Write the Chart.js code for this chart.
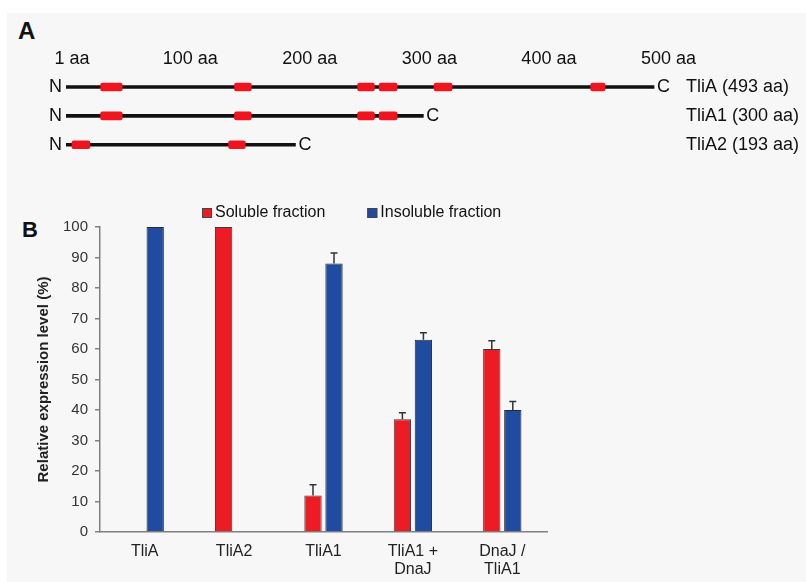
<!DOCTYPE html>
<html>
<head>
<meta charset="utf-8">
<title>TliA constructs and expression</title>
<script src="https://cdn.jsdelivr.net/npm/chart.js@4.4.0/dist/chart.umd.min.js"></script>
<style>
  html, body { margin: 0; padding: 0; background: #fff; }
  body { width: 806px; height: 582px; position: relative; overflow: hidden; font-family: 'Liberation Sans', Arial, sans-serif; }
  .panel-bg { position: absolute; left: 7px; top: 13px; right: 0; bottom: 0; background: #f7f7f7; }
  .panel-letter { position: absolute; font-weight: bold; line-height: 1; color: #111; }
  canvas { position: absolute; left: 0; }
  #mapChart { top: 0; }
  #barChart { top: 190px; }
</style>
</head>
<body>
<div class="panel-bg"></div>
<div class="panel-letter" style="left:18px; top:19px; font-size:24px;">A</div>
<div class="panel-letter" style="left:22px; top:219px; font-size:22px;">B</div>
<canvas id="mapChart" width="806" height="190"></canvas>
<canvas id="barChart" width="806" height="392"></canvas>
<script>
// Panel A: protein maps (positions in aa)
const proteinNames = ['TliA (493 aa)', 'TliA1 (300 aa)', 'TliA2 (193 aa)'];
const proteinLengths = [493, 300, 193];
const aaTicks = [1, 100, 200, 300, 400, 500];
const tliADomains = [[30, 48], [142, 156], [245, 259], [263, 278], [309, 324], [440, 452]];
const tliA1Domains = [[30, 48], [142, 156], [245, 259], [263, 278]];
const tliA2Domains = [[6, 21], [137, 151]];

// Panel B: relative expression level (%)
const constructs = ['TliA', 'TliA2', 'TliA1', ['TliA1 +', 'DnaJ'], ['DnaJ /', 'TliA1']];
const solubleValues = [null, 100, 12, 37, 60];
const insolubleValues = [100, null, 88, 63, 40];
const solubleErrors = [null, null, 3.5, 2.1, 2.7];
const insolubleErrors = [null, null, 3.5, 2.3, 2.8];

const fontFamily = "'Liberation Sans', Arial, sans-serif";
Chart.defaults.font.family = fontFamily;

// N / C labels at the ends of each protein line
const endLabelsPlugin = {
    id: 'endLabels',
    afterDatasetsDraw(chart) {
        const { ctx, scales: { x, y } } = chart;
        ctx.save();
        ctx.font = '18px ' + fontFamily;
        ctx.fillStyle = '#111';
        ctx.textBaseline = 'middle';
        proteinLengths.forEach((len, i) => {
            const yPos = y.getPixelForValue(i);
            ctx.textAlign = 'right';
            ctx.fillText('N', x.getPixelForValue(1) - 4, yPos);
            ctx.textAlign = 'left';
            ctx.fillText('C', x.getPixelForValue(len) + 3, yPos);
        });
        ctx.restore();
    }
};

// One-sided error bars on top of the bars
const errorBarPlugin = {
    id: 'errorBars',
    afterDatasetsDraw(chart) {
        const { ctx, scales: { y } } = chart;
        ctx.save();
        ctx.strokeStyle = '#333';
        ctx.lineWidth = 1.5;
        chart.data.datasets.forEach((ds, di) => {
            const meta = chart.getDatasetMeta(di);
            ds.errors.forEach((err, i) => {
                const value = ds.data[i];
                if (value == null || err == null) return;
                const bar = meta.data[i];
                const top = y.getPixelForValue(value + err);
                ctx.beginPath();
                ctx.moveTo(bar.x, bar.y);
                ctx.lineTo(bar.x, top);
                ctx.moveTo(bar.x - 3.5, top);
                ctx.lineTo(bar.x + 3.5, top);
                ctx.stroke();
            });
        });
        ctx.restore();
    }
};

// Legend row above panel B
const legendRowPlugin = {
    id: 'legendRow',
    afterDraw(chart) {
        const { ctx } = chart;
        ctx.save();
        ctx.font = '16px ' + fontFamily;
        ctx.textBaseline = 'middle';
        let x = 202;
        const y = 23;
        chart.data.datasets.forEach(ds => {
            ctx.fillStyle = ds.backgroundColor;
            ctx.fillRect(x, y - 5, 10, 10);
            ctx.strokeStyle = '#444';
            ctx.lineWidth = 1;
            ctx.strokeRect(x + 0.5, y - 4.5, 9, 9);
            ctx.fillStyle = '#111';
            ctx.textAlign = 'left';
            ctx.fillText(ds.label, x + 13, y);
            x += 13 + ctx.measureText(ds.label).width + 42;
        });
        ctx.restore();
    }
};

function initMapChart() {
    const domainSets = [tliADomains, tliA1Domains, tliA2Domains];
    const maxDomains = Math.max(...domainSets.map(d => d.length));
    const datasets = [];

    // red domain boxes
    for (let i = 0; i < maxDomains; i++) {
        datasets.push({
            data: domainSets.map(d => d[i] || null),
            backgroundColor: '#f0141e',
            barThickness: 8,
            borderRadius: 2,
            borderSkipped: false,
            grouped: false
        });
    }

    // black backbone, last so it sits under the boxes
    datasets.push({
        data: proteinLengths.map(len => [1, len]),
        backgroundColor: '#111',
        barThickness: 3,
        grouped: false
    });

    new Chart(document.getElementById('mapChart').getContext('2d'), {
        type: 'bar',
        data: { labels: proteinNames, datasets: datasets },
        options: {
            indexAxis: 'y',
            responsive: false,
            animation: false,
            layout: { padding: { left: 66, right: 0, top: 45, bottom: 27.5 } },
            plugins: { legend: { display: false }, tooltip: { enabled: false } },
            scales: {
                x: {
                    type: 'linear',
                    position: 'top',
                    min: 1,
                    max: 503,
                    afterBuildTicks: scale => { scale.ticks = aaTicks.map(v => ({ value: v })); },
                    ticks: {
                        callback: v => v + ' aa',
                        font: { size: 18 },
                        color: '#111',
                        padding: 3,
                        labelOffset: 6,
                        autoSkip: false,
                        maxRotation: 0
                    },
                    grid: { display: false, drawTicks: false },
                    border: { display: false }
                },
                y: {
                    type: 'category',
                    position: 'right',
                    afterFit: scale => { scale.width = 140; },
                    ticks: { font: { size: 18 }, color: '#111', padding: 20 },
                    grid: { display: false, drawTicks: false },
                    border: { display: false }
                }
            }
        },
        plugins: [endLabelsPlugin]
    });
}

function initBarChart() {
    new Chart(document.getElementById('barChart').getContext('2d'), {
        type: 'bar',
        data: {
            labels: constructs,
            datasets: [{
                label: 'Soluble fraction',
                data: solubleValues,
                errors: solubleErrors,
                backgroundColor: '#ed1c24',
                borderColor: '#3a3a3a',
                borderWidth: 1
            }, {
                label: 'Insoluble fraction',
                data: insolubleValues,
                errors: insolubleErrors,
                backgroundColor: '#1f4ba0',
                borderColor: '#2a2a2a',
                borderWidth: 1
            }]
        },
        options: {
            responsive: false,
            animation: false,
            datasets: { bar: { categoryPercentage: 0.47, barPercentage: 0.824 } },
            layout: { padding: { left: 30, right: 259, top: 37, bottom: 0 } },
            plugins: { legend: { display: false }, tooltip: { enabled: false } },
            scales: {
                x: {
                    afterFit: scale => { scale.height = 50; },
                    grid: { display: false, drawTicks: false },
                    border: { display: true, color: '#808080', width: 1.5 },
                    ticks: { font: { size: 16, lineHeight: 1.15 }, color: '#222', padding: 10, maxRotation: 0 }
                },
                y: {
                    min: 0,
                    max: 100,
                    afterFit: scale => { scale.width = 70; },
                    ticks: { stepSize: 10, font: { size: 15 }, color: '#333', padding: 7 },
                    grid: { drawOnChartArea: false, drawTicks: true, tickLength: 5, color: '#808080', lineWidth: 1.5 },
                    border: { color: '#808080', width: 1.5 },
                    title: {
                        display: true,
                        text: 'Relative expression level (%)',
                        font: { size: 15, weight: 'bold' },
                        color: '#222',
                        padding: { top: 5, bottom: 0 }
                    }
                }
            }
        },
        plugins: [errorBarPlugin, legendRowPlugin]
    });
}

initMapChart();
initBarChart();
</script>
</body>
</html>
